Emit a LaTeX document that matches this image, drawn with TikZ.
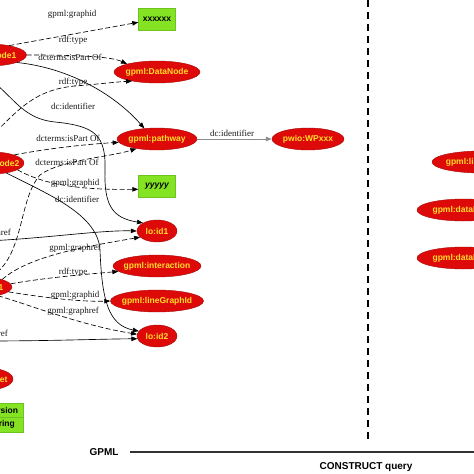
\documentclass[tikz,border=0pt]{standalone}
\usepackage{fontspec}
\setmainfont{Liberation Serif}
\setsansfont{Liberation Sans}
\usepackage{tikz}
\usetikzlibrary{arrows.meta,shapes.geometric,positioning}
\definecolor{resred}{RGB}{222,10,10}
\definecolor{resyellow}{RGB}{255,222,40}
\definecolor{litgreen}{RGB}{132,228,36}

\begin{document}
\begin{tikzpicture}[x=1pt,y=-1pt,
  res/.style={ellipse,draw=resred!75!black,fill=resred,text=resyellow,
    font=\sffamily\bfseries\fontsize{8.5}{9}\selectfont,
    inner xsep=-5pt,inner ysep=0pt,minimum height=22pt,minimum width=#1},
  lit/.style={rectangle,fill=litgreen,draw=litgreen!85!black,
    font=\sffamily\bfseries\fontsize{8.5}{9}\selectfont,
    inner sep=0pt,minimum width=37pt,minimum height=22pt},
  lbl/.style={font=\fontsize{9}{10}\selectfont,text=black!90,inner sep=0pt},
  link/.style={-{Triangle[length=6pt,width=4.5pt]},line width=0.65pt},
  dlink/.style={link,dash pattern=on 5pt off 2.5pt}]
\useasboundingbox (0,0) rectangle (474,474);
\clip (0,0) rectangle (474,474);
% GPML side
\node[res=75pt] (n1) at (-11,55) {lo:DataNode1};
\node[res=64pt] (n2) at (-8,163) {lo:DataNode2};
\node[res=76pt] (n3) at (-26,287) {lo:Interaction1};
\node[res=52pt] (n4) at (-13,379) {lo:Dataset};
\node[lit,minimum width=40pt,minimum height=14.5pt] (v1) at (3,410) {version};
\node[lit,minimum width=40pt,minimum height=14.5pt] (v2) at (3,424.5) {string};
\coordinate (s4) at (-25,72);
\coordinate (s5) at (-15,142);
\coordinate (s10) at (-15,241);
\coordinate (s15) at (-15,341);
\node[lit] (xx) at (157,19) {xxxxxx};
\node[res=86pt] (dn) at (157,72) {gpml:DataNode};
\node[res=80pt] (pw) at (157,139) {gpml:pathway};
\node[res=72pt] (wp) at (308,139) {pwio:WPxxx};
\node[lit,font=\sffamily\bfseries\itshape\fontsize{8.5}{9}\selectfont] (yy) at (157,186) {yyyyy};
\node[res=40pt] (id1) at (157,231) {lo:id1};
\node[res=88pt] (ia) at (157,266) {gpml:interaction};
\node[res=93pt] (lg) at (157,301) {gpml:lineGraphId};
\node[res=40pt] (id2) at (157,336) {lo:id2};
% edges
\draw[dlink] (n1.25) -- (xx.190);
\draw[dlink] (n1.east) .. controls (70,55) and (110,56) .. (dn.165);
\draw[link] (n1.-15) .. controls (70,68) and (115,95) .. (pw.140);
\draw[link] (s4) .. controls (10,85) and (15,118) .. (55,122) .. controls (95,126) and (106,135) .. (105,170) .. controls (104,205) and (112,218) .. (id1.150);
\draw[dlink] (s5) .. controls (15,115) and (30,90) .. (75,86) .. controls (100,84) and (115,82) .. (dn.200);
\draw[dlink] (n2.20) .. controls (50,148) and (90,144) .. (pw.185);
\draw[dlink] (n3.30) .. controls (25,255) and (18,200) .. (40,175) .. controls (60,160) and (110,157) .. (pw.-155);
\draw[dlink] (n2.-15) .. controls (45,185) and (80,190) .. (yy.190);
\draw[link] (n2.-35) .. controls (50,195) and (98,215) .. (100,250) .. controls (102,300) and (108,325) .. (id2.165);
\draw[link] (s10) .. controls (40,239) and (100,230) .. (id1.west);
\draw[dlink] (n3.15) .. controls (30,255) and (90,246) .. (id1.200);
\draw[dlink] (n3.5) .. controls (50,277) and (90,274) .. (ia.188);
\draw[dlink] (n3.-8) .. controls (40,297) and (80,302) .. (lg.west);
\draw[dlink] (n3.-20) .. controls (30,305) and (80,325) .. (id2.175);
\draw[link] (s15) .. controls (50,341) and (100,339) .. (id2.188);
\draw[link,draw=black!45] (pw) -- (wp);
% edge labels
\foreach \i/\x/\y/\t in {1/72/14/gpml:graphid,2/73/40/rdf:type,3/70/57/dcterms:isPart Of,
  4/73/82/rdf:type,5/73/106/dc:identifier,6/68/138/dcterms:isPart Of,7/67/162/dcterms:isPart Of,
  8/75/183/gpml:graphid,9/77/199/dc:identifier,11/75/248/gpml:graphref,12/73/272/rdf:type,
  13/75/295/gpml:graphid,14/73/311/gpml:graphref,16/232/133/dc:identifier}
  \node[lbl] (l\i) at (\x,\y) {\t};
\node[lbl,anchor=east] (l10) at (11,233) {gpml:graphref};
\node[lbl,anchor=east] (l15) at (8,334) {gpml:graphref};
% CONSTRUCT side
\node[res=98pt] (r1) at (481,162) {gpml:lineGraphId};
\node[res=93pt] (r2) at (463.5,210) {gpml:dataNode};
\node[res=93pt] (r3) at (463.5,258) {gpml:dataNode};
\draw[line width=2pt,dash pattern=on 7pt off 5pt] (368,0) -- (368,440);
\node[font=\sffamily\bfseries\fontsize{10}{12}\selectfont] (gpml) at (104,452) {GPML};
\draw[line width=1.5pt,black!80] ([xshift=8pt]gpml.east) -- ++(360,0);
\node[font=\sffamily\bfseries\fontsize{10}{12}\selectfont] (cq) at (366,467) {CONSTRUCT query};
\end{tikzpicture}
\end{document}
